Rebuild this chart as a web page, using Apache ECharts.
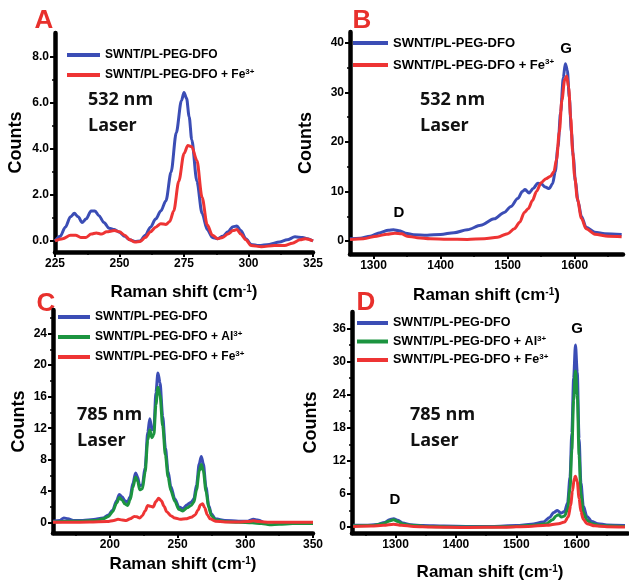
<!DOCTYPE html>
<html>
<head>
<meta charset="utf-8">
<title>Raman spectra</title>
<script src="https://cdn.jsdelivr.net/npm/echarts@6.0.0/dist/echarts.min.js"></script>
<style>
  html, body { margin: 0; padding: 0; background: #fff; }
  #chart { width: 629px; height: 583px; }
</style>
</head>
<body>
<div id="chart"></div>
<script>
// series names
var nameBlue = 'SWNT/PL-PEG-DFO';
var nameAl = 'SWNT/PL-PEG-DFO + Al3+';
var nameFe = 'SWNT/PL-PEG-DFO + Fe3+';

// panel A, 532 nm, RBM region  [shift, counts]
var aBlue = [[225,0.0],[227,0.2],[229,0.6],[231,1.05],[232.5,1.2],[234,1.05],[235.5,0.8],[237,0.95],[239,1.3],[240.5,1.3],[242,1.1],[244,0.8],[246,0.55],[248,0.5],[250,0.38],[252,0.2],[254,0.05],[256,-0.02],[258,0.0],[260,0.25],[262,0.6],[264,0.95],[266,1.3],[268,1.75],[270,3.0],[272,4.7],[274,6.1],[275,6.45],[276,6.2],[277,5.4],[278,4.4],[280,2.6],[282,1.2],[284,0.5],[286,0.15],[288,0.1],[290,0.2],[292,0.4],[294,0.62],[295.5,0.65],[297,0.45],[299,0.1],[301,-0.15],[304,-0.2],[308,-0.15],[312,-0.05],[315,0.05],[318,0.18],[321,0.15],[323,0.1],[325,0.0]];
var aRed = [[225,0.0],[228,0.1],[231,0.25],[233,0.25],[235,0.15],[237,0.15],[239,0.3],[241,0.35],[243,0.3],[245,0.4],[248,0.45],[250,0.4],[252,0.25],[254,0.05],[256,-0.05],[258,-0.02],[260,0.15],[262,0.4],[264,0.6],[266,0.75],[268,0.72],[269.5,0.85],[271,1.3],[273,2.6],[275,3.8],[276.5,4.15],[278,4.1],[280,3.5],[282,1.9],[284,0.7],[286,0.25],[288,0.1],[290,0.15],[292,0.3],[294,0.45],[295.5,0.5],[297,0.3],[299,0.05],[301,-0.2],[305,-0.25],[310,-0.2],[314,-0.2],[317,-0.1],[320,0.05],[322,0.1],[325,0.0]];

// panel B, 532 nm, D and G bands
var bBlue = [[1265,0.5],[1280,0.6],[1295,1.0],[1310,1.7],[1322,2.2],[1330,2.3],[1338,2.1],[1348,1.6],[1360,1.3],[1380,1.2],[1400,1.35],[1420,1.7],[1440,2.3],[1460,3.2],[1480,4.5],[1495,5.8],[1505,7.0],[1515,8.6],[1522,10.0],[1526,10.4],[1532,9.7],[1538,10.6],[1545,11.7],[1550,11.6],[1556,10.9],[1562,10.6],[1567,11.6],[1571,14.0],[1575,19.0],[1579,26.0],[1583,33.0],[1586,35.8],[1589,34.5],[1592,29.0],[1595,22.0],[1598,17.0],[1601,12.0],[1605,8.0],[1610,5.0],[1617,2.8],[1630,1.8],[1645,1.5],[1670,1.35]];
var bRed = [[1265,0.3],[1285,0.5],[1305,1.0],[1320,1.4],[1332,1.6],[1342,1.5],[1350,1.0],[1365,0.7],[1385,0.5],[1410,0.4],[1440,0.35],[1465,0.5],[1485,0.8],[1500,1.5],[1510,2.5],[1518,3.8],[1525,5.8],[1531,6.6],[1537,8.2],[1543,10.0],[1550,11.8],[1557,12.6],[1564,13.1],[1569,14.0],[1573,16.5],[1577,22.0],[1581,28.5],[1585,32.5],[1588,33.3],[1591,31.0],[1594,25.0],[1597,18.0],[1600,13.0],[1604,8.5],[1610,4.6],[1617,2.5],[1630,1.4],[1650,1.0],[1670,0.9]];

// panel C, 785 nm, RBM region
var cBlue = [[158,0.2],[163,0.3],[166,0.6],[169,0.5],[173,0.3],[180,0.3],[188,0.4],[195,0.6],[199,1.0],[202,1.6],[205,2.8],[207,3.6],[209,3.3],[211,2.8],[213,2.6],[215,3.3],[217,5.0],[219,6.3],[220.5,5.8],[222,4.7],[224,4.8],[226,7.0],[228,11.5],[229.5,13.2],[231,11.8],[232.5,12.0],[234,16.5],[235.5,19.0],[237,17.8],[239,13.5],[241,9.5],[243,6.5],[245,4.6],[248,3.0],[251,2.0],[254,1.8],[257,2.3],[260,2.6],[262,3.0],[264,4.8],[266,7.5],[267.5,8.4],[269,7.5],[271,4.5],[273,2.2],[275,1.1],[278,0.5],[285,0.3],[295,0.2],[302,0.2],[306,0.45],[309,0.35],[313,0.1]];
var cGreen = [[158,0.1],[170,0.2],[180,0.2],[190,0.3],[195,0.5],[199,0.8],[202,1.4],[205,2.5],[207,3.2],[209,2.9],[211,2.4],[213,2.2],[215,2.9],[217,4.5],[219,5.8],[220.5,5.3],[222,4.2],[224,4.3],[226,6.4],[228,10.5],[229.5,11.8],[231,10.8],[232.5,11.2],[234,15.0],[235.5,17.2],[237,16.2],[239,12.3],[241,8.6],[243,5.8],[245,4.1],[248,2.7],[251,1.7],[254,1.5],[257,1.9],[260,2.2],[262,2.6],[264,4.2],[266,6.6],[267.5,7.4],[269,6.6],[271,4.0],[273,1.9],[275,0.9],[278,0.35],[285,0.15],[295,0.05],[305,0.0],[312,-0.1],[318,-0.25],[325,-0.2],[335,-0.1],[350,-0.1]];
var cRed = [[158,0.05],[170,0.05],[185,0.1],[198,0.15],[203,0.3],[206,0.45],[209,0.35],[212,0.3],[215,0.5],[218,0.8],[220,0.75],[222,0.6],[224,0.9],[226,1.5],[228,2.2],[230,2.1],[232,2.0],[234,2.7],[236,3.1],[238,2.8],[240,2.1],[242,1.4],[245,0.9],[248,0.6],[252,0.45],[256,0.5],[260,0.7],[263,1.0],[265,1.6],[267,2.3],[268.5,2.4],[270,1.9],[272,1.0],[274,0.5],[278,0.2],[285,0.1],[295,0.1],[302,0.15],[306,0.25],[310,0.15],[318,0.05],[330,0.05],[350,0.05]];

// panel D, 785 nm, D and G bands
var dBlue = [[1230,0.3],[1250,0.3],[1270,0.45],[1282,0.8],[1290,1.3],[1297,1.5],[1304,1.2],[1312,0.7],[1325,0.4],[1345,0.25],[1380,0.15],[1420,0.1],[1460,0.1],[1500,0.25],[1525,0.5],[1545,0.9],[1555,1.7],[1562,2.6],[1568,3.0],[1574,2.5],[1580,2.8],[1585,4.4],[1589,9.0],[1592,17.0],[1595,27.0],[1598,33.0],[1601,28.0],[1604,16.0],[1607,8.0],[1611,3.8],[1617,1.9],[1625,1.0],[1635,0.6],[1650,0.35],[1680,0.25]];
var dGreen = [[1230,0.2],[1260,0.25],[1280,0.6],[1290,1.1],[1297,1.3],[1304,1.0],[1312,0.55],[1325,0.3],[1350,0.1],[1400,0.0],[1450,0.0],[1500,0.1],[1530,0.3],[1550,0.6],[1560,1.3],[1566,2.0],[1570,2.2],[1575,1.8],[1580,2.0],[1585,3.2],[1589,7.0],[1592,14.0],[1595,23.0],[1598,28.3],[1601,24.0],[1604,13.0],[1607,6.0],[1611,2.6],[1617,1.2],[1625,0.6],[1640,0.2],[1680,0.1]];
var dRed = [[1230,0.1],[1260,0.15],[1280,0.3],[1297,0.5],[1310,0.3],[1330,0.1],[1360,0.0],[1420,-0.1],[1480,-0.05],[1520,0.1],[1550,0.3],[1570,0.6],[1580,0.9],[1586,1.8],[1590,3.8],[1593,6.5],[1596,8.8],[1598,9.2],[1601,8.2],[1604,5.2],[1607,2.8],[1611,1.4],[1617,0.6],[1630,0.2],[1650,0.05],[1680,0.0]];

// ticks
var aXTicks = [225, 250, 275, 300, 325], aXMinor = [237.5, 262.5, 287.5, 312.5];
var aYTicks = [0, 2, 4, 6, 8], aYMinor = [1, 3, 5, 7];
var bXTicks = [1300, 1400, 1500, 1600], bXMinor = [1350, 1450, 1550, 1650];
var bYTicks = [0, 10, 20, 30, 40], bYMinor = [5, 15, 25, 35];
var cXTicks = [200, 250, 300, 350], cXMinor = [175, 225, 275, 325];
var cYTicks = [0, 4, 8, 12, 16, 20, 24], cYMinor = [2, 6, 10, 14, 18, 22, 26];
var dXTicks = [1300, 1400, 1500, 1600], dXMinor = [1250, 1350, 1450, 1550, 1650];
var dYTicks = [0, 6, 12, 18, 24, 30, 36], dYMinor = [3, 9, 15, 21, 27, 33];

var BLUE = '#3b4db5', GREEN = '#1c9440', RED = '#ee3434', LETTER = '#e8302c';
var SANS = '"Liberation Sans", Arial, sans-serif';

var chart = echarts.init(document.getElementById('chart'));

var supRich = {
  sup: { fontSize: 10, fontWeight: 'bold', fontFamily: SANS, color: '#000', verticalAlign: 'top', lineHeight: 12 }
};

// labelled axis: major ticks, tick labels, axis name (its own line is not drawn here)
function mainX(g, min, max, ticks, gap) {
  return {
    type: 'value', gridIndex: g, min: min, max: max, position: 'bottom',
    name: 'Raman shift (cm{sup|-1})', nameLocation: 'middle', nameGap: gap,
    nameTextStyle: { color: '#000', fontWeight: 'bold', fontSize: 17, fontFamily: SANS, rich: supRich },
    axisLine: { show: false, onZero: false },
    axisTick: { show: true, inside: false, length: 5, customValues: ticks, lineStyle: { color: '#000', width: 2 } },
    axisLabel: { show: true, customValues: ticks, margin: 6, color: '#000', fontWeight: 'bold', fontSize: 12, fontFamily: SANS,
      formatter: function (v) { return String(v); } },
    splitLine: { show: false }
  };
}
function mainY(g, min, max, ticks, gap, fmt) {
  return {
    type: 'value', gridIndex: g, min: min, max: max, position: 'left',
    name: 'Counts', nameLocation: 'middle', nameGap: gap, nameRotate: 90,
    nameTextStyle: { color: '#000', fontWeight: 'bold', fontSize: 18, fontFamily: SANS },
    axisLine: { show: false, onZero: false },
    axisTick: { show: true, inside: false, length: 5, customValues: ticks, lineStyle: { color: '#000', width: 2 } },
    axisLabel: { show: true, customValues: ticks, margin: 6, color: '#000', fontWeight: 'bold', fontSize: 12, fontFamily: SANS,
      formatter: fmt || function (v) { return String(v); } },
    splitLine: { show: false }
  };
}
// second axis on the same edge: draws the thick axis line and the short minor ticks
function edgeAxis(g, min, max, ticks, pos) {
  return {
    type: 'value', gridIndex: g, min: min, max: max, position: pos,
    axisLine: { show: true, onZero: false, lineStyle: { color: '#000', width: 4.5 } },
    axisTick: { show: true, inside: false, length: 3, customValues: ticks, lineStyle: { color: '#000', width: 1.5 } },
    axisLabel: { show: false },
    splitLine: { show: false }
  };
}
function line(name, data, color, i) {
  return {
    type: 'line', name: name, data: data, xAxisIndex: i, yAxisIndex: i,
    symbol: 'none', showSymbol: false, smooth: 0.3, smoothMonotone: 'x',
    lineStyle: { width: 3, color: color }, itemStyle: { color: color },
    silent: true, animation: false
  };
}
function legend(left, top, w, gap, size, names) {
  return {
    left: left, top: top, orient: 'vertical', padding: 0, icon: 'rect', itemWidth: w, itemHeight: 4, itemGap: gap,
    selectedMode: false, data: names,
    formatter: function (n) { return n.replace('3+', '{sup|3+}'); },
    textStyle: { color: '#000', fontWeight: 'bold', fontSize: size, fontFamily: SANS, lineHeight: 14,
      rich: { sup: { fontSize: 8, fontWeight: 'bold', fontFamily: SANS, color: '#000', verticalAlign: 'top', lineHeight: 10 } } }
  };
}
function label(x, y, text, size, color, family, weight, align) {
  return {
    type: 'text', x: x, y: y, silent: true,
    style: { text: text, fill: color, font: weight + ' ' + size + 'px ' + family, textAlign: align, textVerticalAlign: 'middle' }
  };
}

var option = {
  animation: false,
  backgroundColor: '#fff',
  grid: [
    { left: 55, top: 33, width: 258, height: 219, outerBoundsMode: 'none' },
    { left: 350, top: 32, width: 273, height: 222, outerBoundsMode: 'none' },
    { left: 53, top: 310, width: 260, height: 223, outerBoundsMode: 'none' },
    { left: 352, top: 312, width: 276, height: 221, outerBoundsMode: 'none' }
  ],
  xAxis: [
    mainX(0, 225, 325, aXTicks, 32),
    mainX(1, 1265, 1672, bXTicks, 33),
    mainX(2, 158, 350, cXTicks, 23),
    mainX(3, 1228, 1685, dXTicks, 31),
    edgeAxis(0, 225, 325, aXMinor, 'bottom'),
    edgeAxis(1, 1265, 1672, bXMinor, 'bottom'),
    edgeAxis(2, 158, 350, cXMinor, 'bottom'),
    edgeAxis(3, 1228, 1685, dXMinor, 'bottom')
  ],
  yAxis: [
    mainY(0, -0.48, 9.04, aYTicks, 30, function (v) { return v.toFixed(1); }),
    mainY(1, -2.6, 42.2, bYTicks, 35),
    mainY(2, -1.3, 27, cYTicks, 25),
    mainY(3, -1.1, 39, dYTicks, 32),
    edgeAxis(0, -0.48, 9.04, aYMinor, 'left'),
    edgeAxis(1, -2.6, 42.2, bYMinor, 'left'),
    edgeAxis(2, -1.3, 27, cYMinor, 'left'),
    edgeAxis(3, -1.1, 39, dYMinor, 'left')
  ],
  legend: [
    legend(67, 48, 33, 6, 12, [nameBlue, nameFe]),
    legend(353, 36, 35, 8, 13, [nameBlue, nameFe]),
    legend(58, 310, 32, 6, 12, [nameBlue, nameAl, nameFe]),
    legend(357, 316, 31, 4.5, 12.5, [nameBlue, nameAl, nameFe])
  ],
  series: [
    line(nameBlue, aBlue, BLUE, 0),
    line(nameFe, aRed, RED, 0),
    line(nameBlue, bBlue, BLUE, 1),
    line(nameFe, bRed, RED, 1),
    line(nameBlue, cBlue, BLUE, 2),
    line(nameAl, cGreen, GREEN, 2),
    line(nameFe, cRed, RED, 2),
    line(nameBlue, dBlue, BLUE, 3),
    line(nameAl, dGreen, GREEN, 3),
    line(nameFe, dRed, RED, 3)
  ],
  graphic: [
    label(44, 21, 'A', 26, LETTER, SANS, 'bold', 'center'),
    label(362, 21, 'B', 26, LETTER, SANS, 'bold', 'center'),
    label(46, 304, 'C', 26, LETTER, SANS, 'bold', 'center'),
    label(366, 303, 'D', 26, LETTER, SANS, 'bold', 'center'),
    label(88, 100, '532 nm', 18, '#111', '"Open Sans"', 'bold', 'left'),
    label(88, 126, 'Laser', 18, '#111', '"Open Sans"', 'bold', 'left'),
    label(420, 100, '532 nm', 18, '#111', '"Open Sans"', 'bold', 'left'),
    label(420, 126, 'Laser', 18, '#111', '"Open Sans"', 'bold', 'left'),
    label(77, 415, '785 nm', 18, '#111', '"Open Sans"', 'bold', 'left'),
    label(77, 441, 'Laser', 18, '#111', '"Open Sans"', 'bold', 'left'),
    label(410, 415, '785 nm', 18, '#111', '"Open Sans"', 'bold', 'left'),
    label(410, 441, 'Laser', 18, '#111', '"Open Sans"', 'bold', 'left'),
    label(566, 49, 'G', 15, '#000', SANS, 'bold', 'center'),
    label(399, 213, 'D', 15, '#000', SANS, 'bold', 'center'),
    label(577, 329, 'G', 15, '#000', SANS, 'bold', 'center'),
    label(395, 500, 'D', 15, '#000', SANS, 'bold', 'center')
  ]
};

chart.setOption(option);
</script>
</body>
</html>
